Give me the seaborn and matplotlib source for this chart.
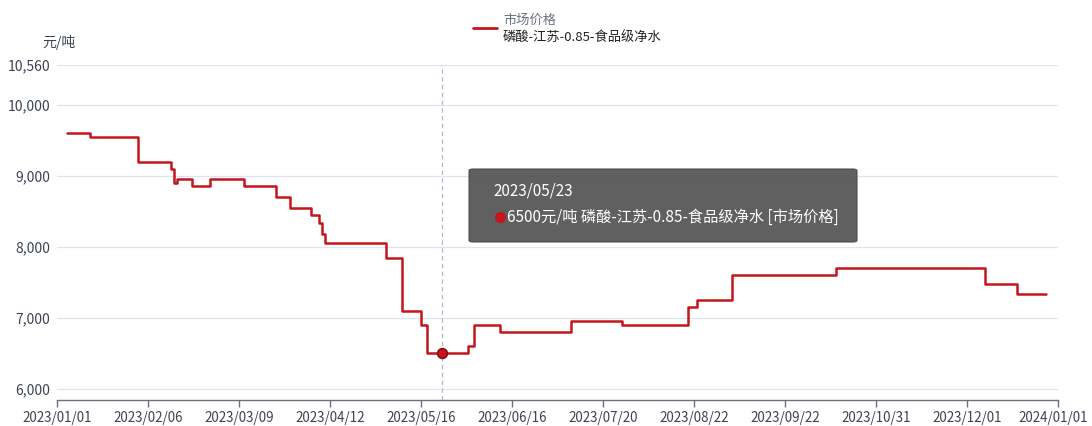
import pandas as pd
import numpy as np
import matplotlib
matplotlib.use('Agg')
import matplotlib.pyplot as plt
import matplotlib.dates as mdates
from matplotlib.lines import Line2D
from matplotlib.patches import FancyBboxPatch
from matplotlib.transforms import ScaledTranslation
import seaborn as sns

# price change points (step series)
change_dates = ['2023-01-05', '2023-01-14', '2023-02-02', '2023-02-14', '2023-02-15', '2023-02-16',
                '2023-02-21', '2023-02-27', '2023-03-11', '2023-03-23', '2023-03-28', '2023-04-05',
                '2023-04-08', '2023-04-09', '2023-04-10', '2023-05-03', '2023-05-09', '2023-05-16',
                '2023-05-18', '2023-06-01', '2023-06-03', '2023-06-12', '2023-07-08', '2023-07-27',
                '2023-08-20', '2023-08-23', '2023-09-04', '2023-10-14', '2023-12-07', '2023-12-18',
                '2023-12-28']
prices = [9600, 9550, 9200, 9100, 8900, 8950, 8850, 8950, 8850, 8700, 8550, 8450,
          8330, 8180, 8050, 7850, 7100, 6900, 6500, 6600, 6900, 6800, 6950, 6900,
          7150, 7250, 7600, 7700, 7480, 7330, 7330]

tick_dates = ['2023-01-01', '2023-02-06', '2023-03-09', '2023-04-12', '2023-05-16', '2023-06-16',
              '2023-07-20', '2023-08-22', '2023-09-22', '2023-10-31', '2023-12-01', '2024-01-01']
tick_labels = ['2023/01/01', '2023/02/06', '2023/03/09', '2023/04/12', '2023/05/16', '2023/06/16',
               '2023/07/20', '2023/08/22', '2023/09/22', '2023/10/31', '2023/12/01', '2024/01/01']
y_ticks = [6000, 7000, 8000, 9000, 10000, 10560]
y_min = 5845

series_group = '市场价格'
series_name = '磷酸-江苏-0.85-食品级净水'
unit = '元/吨'
hover_date = '2023-05-23'
hover_price = 6500

line_color = '#c4161c'
label_color = '#3c4352'

sns.set_theme(style='white')
plt.rcParams['font.family'] = ['Noto Sans CJK SC', 'DejaVu Sans']

df = pd.DataFrame({'date': pd.to_datetime(change_dates), 'price': prices})

# category-like axis: labelled dates sit at equal spacing
tick_num = mdates.date2num(pd.to_datetime(tick_dates))
tick_idx = np.arange(len(tick_num), dtype=float)


def fwd(x):
    return np.interp(x, tick_num, tick_idx)


def inv(x):
    return np.interp(x, tick_idx, tick_num)


W, H = 1092, 426
fig = plt.figure(figsize=(W / 100, H / 100), dpi=100)
fig.patch.set_facecolor('white')
ax = fig.add_axes([57 / W, 1 - 400 / H, (1058 - 57) / W, (400 - 65) / H])

sns.lineplot(data=df, x='date', y='price', ax=ax, color=line_color, linewidth=1.8,
             drawstyle='steps-post', zorder=3)

ax.set_xscale('function', functions=(fwd, inv))
ax.set_xlim(tick_num[0], tick_num[-1])
ax.set_xticks(tick_num)
ax.set_xticklabels(tick_labels)
ax.set_ylim(y_min, y_ticks[-1])
ax.set_yticks(y_ticks)
ax.set_yticklabels([f'{v:,}' for v in y_ticks])
ax.set_xlabel('')
ax.set_ylabel('')

ax.grid(False)
ax.yaxis.grid(True, color='#dfe5ee', linewidth=0.9)
for s in ['top', 'right', 'left']:
    ax.spines[s].set_visible(False)
ax.spines['bottom'].set_color('#6e7079')
ax.spines['bottom'].set_linewidth(1.0)
ax.tick_params(axis='x', length=5, width=1, color='#6e7079', direction='out',
               labelsize=9.6, labelcolor=label_color, pad=3, bottom=True)
ax.tick_params(axis='y', length=0, labelsize=10, labelcolor=label_color, pad=5)

# keep the last date label inside the canvas
last = ax.get_xticklabels()[-1]
last.set_transform(last.get_transform() + ScaledTranslation(-0.05, 0, fig.dpi_scale_trans))

# hover pointer
hx = pd.Timestamp(hover_date)
ax.axvline(hx, color='#a7b6c9', linewidth=0.8, linestyle=(0, (4, 3)), zorder=2)
ax.plot([hx], [hover_price], marker='o', markersize=7, markerfacecolor=line_color,
        markeredgecolor='#8e0b10', markeredgewidth=1.2, zorder=4)

# unit label
fig.text(59 / W, 1 - 42 / H, unit, ha='center', va='center', fontsize=10, color=label_color)

# legend
fig.add_artist(Line2D([473 / W, 497 / W], [1 - 28 / H] * 2, color=line_color, linewidth=2,
                      transform=fig.transFigure))
fig.text(503 / W, 1 - 20 / H, series_group, ha='left', va='center', fontsize=9.5, color='#6b7380')
fig.text(503 / W, 1 - 37 / H, series_name, ha='left', va='center', fontsize=9.5, color='#222222')

# tooltip
box = FancyBboxPatch((469 / W, 1 - 242 / H), (857 - 469) / W, (242 - 169) / H,
                     boxstyle='round,pad=0,rounding_size=0.004', transform=fig.transFigure,
                     facecolor='#575757', edgecolor='#4a4a4a', linewidth=0.8, alpha=0.95, zorder=10)
fig.add_artist(box)
fig.text(493 / W, 1 - 191 / H, hx.strftime('%Y/%m/%d'), ha='left', va='center',
         fontsize=11, color='white', zorder=11)
fig.add_artist(Line2D([500 / W], [1 - 217 / H], marker='o', markersize=7, color=line_color,
                      linestyle='none', transform=fig.transFigure, zorder=11))
fig.text(507 / W, 1 - 217 / H, f'{hover_price}{unit} {series_name} [{series_group}]',
         ha='left', va='center', fontsize=11, color='white', zorder=11)

fig.savefig('out.png', dpi=100)
